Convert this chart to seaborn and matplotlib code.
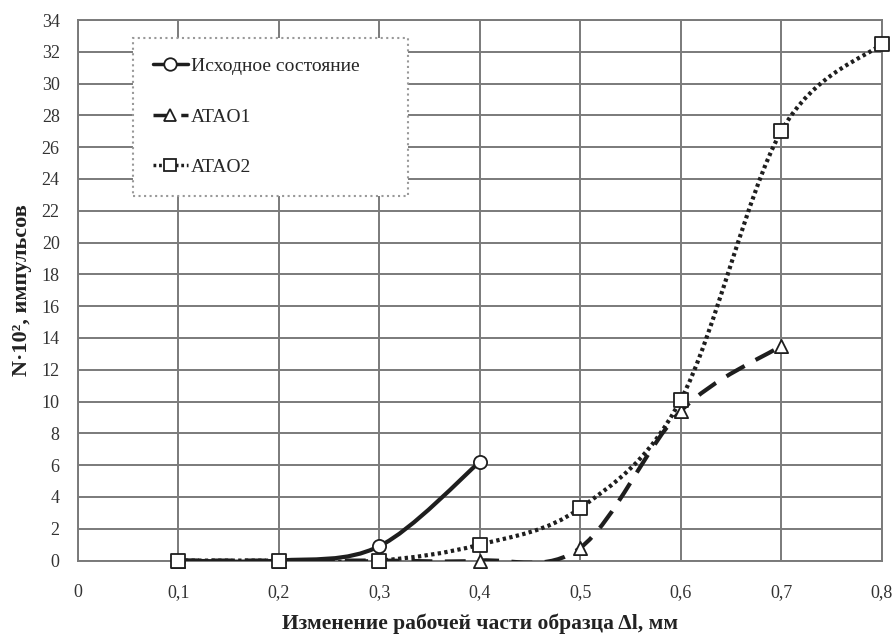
import numpy as np
import matplotlib
matplotlib.use("Agg")
import matplotlib.pyplot as plt
from matplotlib.path import Path
from matplotlib.patches import PathPatch
from matplotlib.lines import Line2D
import seaborn as sns

# ---------- данные ----------
x_init = [0.1, 0.2, 0.3, 0.4]
y_init = [0.0, 0.0, 0.9, 6.2]

x_atao1 = [0.1, 0.2, 0.3, 0.4, 0.5, 0.6, 0.7]
y_atao1 = [0.0, 0.0, 0.0, 0.0, 0.8, 9.4, 13.5]

x_atao2 = [0.1, 0.2, 0.3, 0.4, 0.5, 0.6, 0.7, 0.8]
y_atao2 = [0.0, 0.0, 0.0, 1.0, 3.3, 10.1, 27.0, 32.5]

labels = ["Исходное состояние", "ATAO1", "ATAO2"]
x_ticks = [0, 0.1, 0.2, 0.3, 0.4, 0.5, 0.6, 0.7, 0.8]
x_ticklabels = ["0", "0,1", "0,2", "0,3", "0,4", "0,5", "0,6", "0,7", "0,8"]
y_ticks = list(range(0, 35, 2))

sns.set_theme(style="whitegrid")
plt.rcParams["font.family"] = ["Liberation Serif", "DejaVu Serif"]

INK = "#1e1e1e"
GRID = "#7a7a7a"


def smooth_path(xs, ys):
    # сглаживание как в Excel (кривые Безье по Катмулл-Рому)
    p = np.column_stack([xs, ys]).astype(float)
    pp = np.vstack([p[0], p, p[-1]])
    verts = [tuple(p[0])]
    codes = [Path.MOVETO]
    for i in range(1, len(pp) - 2):
        c1 = pp[i] + (pp[i + 1] - pp[i - 1]) / 6
        c2 = pp[i + 1] - (pp[i + 2] - pp[i]) / 6
        verts += [tuple(c1), tuple(c2), tuple(pp[i + 1])]
        codes += [Path.CURVE4] * 3
    return Path(verts, codes)


fig = plt.figure(figsize=(8.95, 6.35), dpi=100)
ax = fig.add_axes([0.0868, 0.1172, 0.8983, 0.8513])
ax.set_facecolor("white")

series = [
    (x_init, y_init, "-", "o", 9.5, 3),
    (x_atao1, y_atao1, (0, (5, 3)), "^", 9.5, 3),
    (x_atao2, y_atao2, (0, (0.8, 0.8)), "s", 10, 5),
]

handles = []
for (xs, ys, ls, mk, ms, z), lab in zip(series, labels):
    patch = PathPatch(smooth_path(xs, ys), facecolor="none", edgecolor=INK,
                      lw=3, linestyle=ls, zorder=z, capstyle="butt")
    ax.add_patch(patch)
    sns.scatterplot(x=xs, y=ys, marker=mk, s=ms ** 2, color="white",
                    edgecolor=INK, linewidth=1.3, zorder=z + 0.5, ax=ax,
                    clip_on=False)
    handles.append(Line2D([], [], color=INK, lw=2.5, linestyle=ls, marker=mk,
                          markersize=9, markerfacecolor="white",
                          markeredgecolor=INK, markeredgewidth=1.3))

ax.set_xlim(0, 0.8)
ax.set_ylim(0, 34)
ax.set_xticks(x_ticks)
ax.set_xticklabels(x_ticklabels)
ax.set_yticks(y_ticks)
ax.tick_params(axis="both", labelsize=13, length=0, colors="#333333")
ax.tick_params(axis="x", pad=17)
ax.tick_params(axis="y", pad=13)
ax.grid(True, color=GRID, lw=1.4)
for sp in ax.spines.values():
    sp.set_visible(True)
    sp.set_color(GRID)
    sp.set_linewidth(1.4)

ax.set_xlabel("Изменение рабочей части образца Δl, мм", fontsize=15.5,
              fontweight="bold", color="#222222", labelpad=9)
ax.set_ylabel("N·10², импульсов", fontsize=16, fontweight="bold",
              color="#222222", labelpad=7)

leg = ax.legend(handles, labels, loc="upper left",
                bbox_to_anchor=(0.069, 0.967, 0.342, 0.0), mode="expand",
                fontsize=14, labelspacing=1.7, handlelength=1.8,
                handletextpad=0.15, borderpad=1.0, borderaxespad=0,
                fancybox=False, framealpha=1, edgecolor="#999999")
leg.get_frame().set_linestyle(":")
leg.get_frame().set_linewidth(1.5)
leg.set_zorder(10)

fig.savefig("out.png", dpi=100)
